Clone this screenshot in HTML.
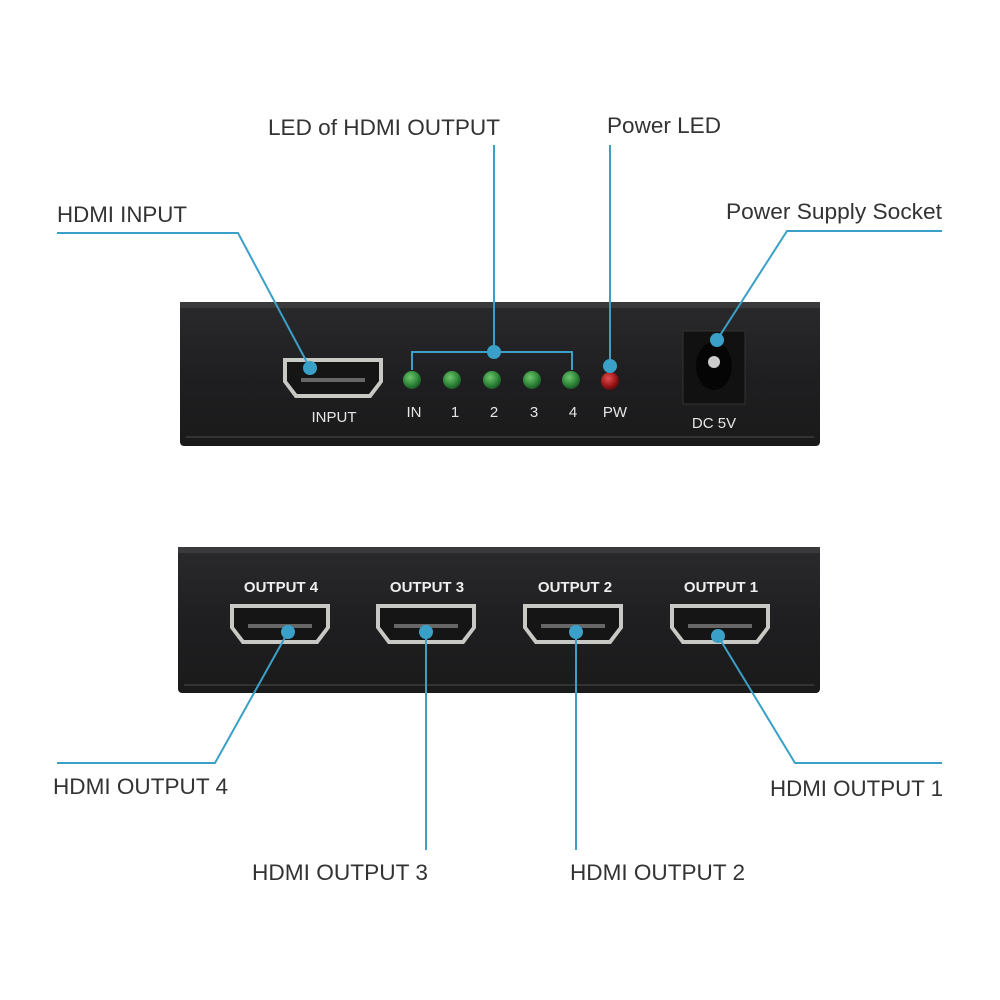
<!DOCTYPE html>
<html><head><style>body{margin:0;background:#fff}svg{display:block}</style></head><body>
<svg width="1000" height="1000" viewBox="0 0 1000 1000" xmlns="http://www.w3.org/2000/svg" font-family="Liberation Sans, sans-serif">
<defs>
<linearGradient id="bx" x1="0" y1="0" x2="0" y2="1"><stop offset="0" stop-color="#2a2a2c"/><stop offset="0.5" stop-color="#1f1f21"/><stop offset="1" stop-color="#1a1a1b"/></linearGradient>
<radialGradient id="g" cx="0.4" cy="0.35" r="0.7"><stop offset="0" stop-color="#6fc46f"/><stop offset="0.6" stop-color="#2f8a3a"/><stop offset="1" stop-color="#1b4d22"/></radialGradient>
<radialGradient id="r" cx="0.4" cy="0.35" r="0.7"><stop offset="0" stop-color="#e05050"/><stop offset="0.6" stop-color="#a01818"/><stop offset="1" stop-color="#500a0a"/></radialGradient>
<g id="port">
<path d="M0,0 H100 V24 L88,40 H12 L0,24 Z" fill="#c8c8c4"/>
<path d="M4,4 H96 V23 L86,36 H14 L4,23 Z" fill="#151515"/>
<rect x="18" y="20" width="64" height="4" fill="#666"/>
</g>
</defs>
<!-- top box -->
<rect x="180" y="302" width="640" height="144" rx="4" fill="url(#bx)"/>
<rect x="180" y="302" width="640" height="6" fill="#3a3a3c"/>
<rect x="186" y="436" width="628" height="2" fill="#333"/>
<use href="#port" x="283" y="358"/>
<text x="334" y="422" fill="#e6e6e6" font-size="15" text-anchor="middle">INPUT</text>
<g fill="url(#g)"><circle cx="412" cy="380" r="9"/><circle cx="452" cy="380" r="9"/><circle cx="492" cy="380" r="9"/><circle cx="532" cy="380" r="9"/><circle cx="571" cy="380" r="9"/></g>
<circle cx="610" cy="381" r="9" fill="url(#r)"/>
<g fill="#e6e6e6" font-size="15" text-anchor="middle"><text x="414" y="417">IN</text><text x="455" y="417">1</text><text x="494" y="417">2</text><text x="534" y="417">3</text><text x="573" y="417">4</text><text x="615" y="417">PW</text></g>
<rect x="683" y="331" width="62" height="73" fill="#111" stroke="#333" stroke-width="1"/>
<ellipse cx="714" cy="366" rx="18" ry="24" fill="#050505"/>
<circle cx="714" cy="362" r="6" fill="#ccc"/>
<text x="714" y="428" fill="#e6e6e6" font-size="15" text-anchor="middle">DC 5V</text>
<!-- bottom box -->
<rect x="178" y="547" width="642" height="146" rx="4" fill="url(#bx)"/>
<rect x="178" y="547" width="642" height="6" fill="#3a3a3c"/>
<rect x="184" y="684" width="630" height="2" fill="#333"/>
<g fill="#eee" font-size="15" font-weight="bold" text-anchor="middle">
<text x="281" y="592">OUTPUT 4</text><text x="427" y="592">OUTPUT 3</text><text x="575" y="592">OUTPUT 2</text><text x="721" y="592">OUTPUT 1</text></g>
<use href="#port" x="230" y="604"/><use href="#port" x="376" y="604"/><use href="#port" x="523" y="604"/><use href="#port" x="670" y="604"/>
<!-- connectors -->
<g stroke="#3aa0c8" stroke-width="2" fill="none">
<polyline points="57,233 238,233 310,368"/>
<polyline points="494,145 494,352"/>
<polyline points="412,370 412,352 572,352 572,370"/>
<polyline points="610,145 610,366"/>
<polyline points="942,231 787,231 717,340"/>
<polyline points="288,632 215,763 57,763"/>
<polyline points="426,632 426,850"/>
<polyline points="576,632 576,850"/>
<polyline points="718,636 795,763 942,763"/>
</g>
<g fill="#3aa0c8">
<circle cx="310" cy="368" r="7"/><circle cx="494" cy="352" r="7"/><circle cx="610" cy="366" r="7"/><circle cx="717" cy="340" r="7"/>
<circle cx="288" cy="632" r="7"/><circle cx="426" cy="632" r="7"/><circle cx="576" cy="632" r="7"/><circle cx="718" cy="636" r="7"/>
</g>
<g fill="#333" font-size="22">
<text x="268" y="135" textLength="232" lengthAdjust="spacingAndGlyphs">LED of HDMI OUTPUT</text>
<text x="607" y="133" textLength="114" lengthAdjust="spacingAndGlyphs">Power LED</text>
<text x="57" y="222" textLength="130" lengthAdjust="spacingAndGlyphs">HDMI INPUT</text>
<text x="726" y="219" textLength="216" lengthAdjust="spacingAndGlyphs">Power Supply Socket</text>
<text x="53" y="794" textLength="175" lengthAdjust="spacingAndGlyphs">HDMI OUTPUT 4</text>
<text x="770" y="796" textLength="173" lengthAdjust="spacingAndGlyphs">HDMI OUTPUT 1</text>
<text x="252" y="880" textLength="176" lengthAdjust="spacingAndGlyphs">HDMI OUTPUT 3</text>
<text x="570" y="880" textLength="175" lengthAdjust="spacingAndGlyphs">HDMI OUTPUT 2</text>
</g>
</svg>
</body></html>
